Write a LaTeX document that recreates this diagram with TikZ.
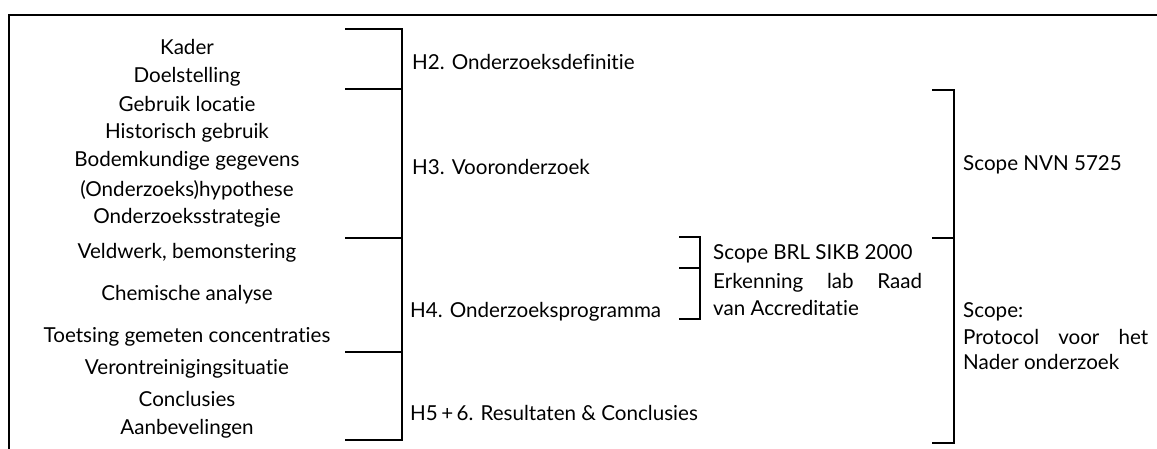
\documentclass[tikz,border=0pt]{standalone}
\usepackage{fontspec}
\setmainfont{Lato}[Ligatures=NoCommon]
\begin{document}
\begin{tikzpicture}[x=1pt,y=-1pt,
  brk/.style={line width=1.3pt},
  frame/.style={line width=1.8pt},
  txt/.style={font=\fontsize{20.6}{24}\selectfont, inner sep=0pt}]
\useasboundingbox (0,0) rectangle (1157,449);
% frame
\coordinate (fl) at (9,449);
\coordinate (fc) at (9,15);
\coordinate (fr) at (1157,15);
\draw[frame] (fl) -- (fc) -- (fr);
% left column
\foreach \n/\y/\t in {
  k1/47/Kader, k2/77/Doelstelling, k3/104/Gebruik locatie,
  k4/133/Historisch gebruik, k5/161/Bodemkundige gegevens,
  k6/190/(Onderzoeks)hypothese, k7/218/Onderzoeksstrategie,
  k8/253/{Veldwerk, bemonstering}, k9/295/Chemische analyse,
  k10/337/Toetsing gemeten concentraties, k11/369/Verontreinigingsituatie,
  k12/399/Conclusies, k13/429/Aanbevelingen}
  \node[txt] (\n) at (187,\y) {\t};
% left brackets
\foreach \a/\b/\c in {29/89/h2, 89/238/h3, 238/352/h4, 352/440/h5}{
  \coordinate (\c t) at (345,\a);
  \coordinate (\c b) at (345,\b);
  \draw[brk] (\c t) -- (402,\a) -- (402,\b) -- (\c b);
}
\node[txt,anchor=west] (H2) at (412,62) {H2. Onderzoeksdefinitie};
\node[txt,anchor=west] (H3) at (412,167) {H3. Vooronderzoek};
\node[txt,anchor=west] (H4) at (410,312) {H4. Onderzoeksprogramma};
\node[txt,anchor=west] (H5) at (410,413) {H5\,+\,6. Resultaten \& Conclusies};
% small brackets
\coordinate (s1) at (679,237);
\coordinate (s2) at (679,268);
\coordinate (s3) at (679,319);
\draw[brk] (s1) -- (700,237) -- (700,319) -- (s3);
\draw[brk] (s2) -- (700,268);
\node[txt,anchor=west] (brl) at (713,254) {Scope BRL SIKB 2000};
\node[txt,anchor=west] (erk1) at (713,283) {\makebox[209pt][s]{Erkenning lab Raad}};
\node[txt,anchor=west] (erk2) at (713,308) {van Accreditatie};
% big right bracket
\coordinate (r1) at (932,90);
\coordinate (r2) at (932,238);
\coordinate (r3) at (932,443);
\draw[brk] (r1) -- (954,90) -- (954,443) -- (r3);
\draw[brk] (r2) -- (954,238);
\node[txt,anchor=west] (nvn) at (963,165) {Scope NVN 5725};
\node[txt,anchor=west] (sc1) at (963,312) {Scope:};
\node[txt,anchor=west] (sc2) at (963,337) {\makebox[185pt][s]{Protocol voor het}};
\node[txt,anchor=west] (sc3) at (963,362) {Nader onderzoek};
\end{tikzpicture}
\end{document}
